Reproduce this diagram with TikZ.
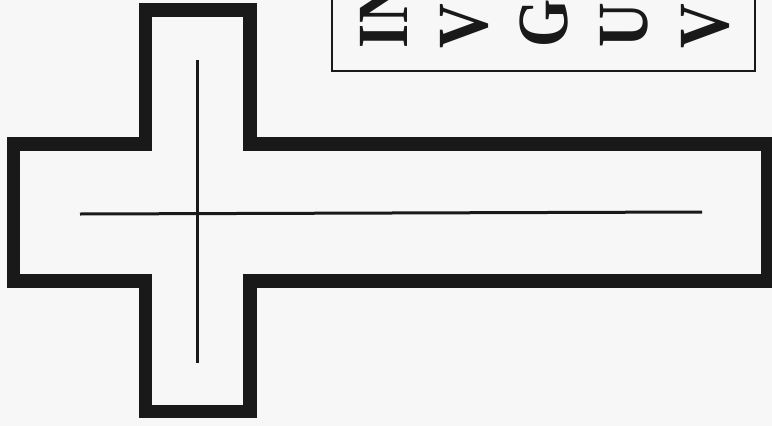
\documentclass[tikz,border=0pt]{standalone}
\usepackage{graphicx}
\usepackage{fontspec}
\setmainfont{Liberation Serif}
\newcommand{\narrowtxt}[1]{\scalebox{0.86}[1]{#1}}
\begin{document}
\begin{tikzpicture}[x=1pt,y=-1pt,
  outline/.style={line width=13.5pt, line join=miter, draw=black!90},
  thinline/.style={line width=3pt, draw=black!90},
  letter/.style={rotate=90, anchor=base west, inner sep=0pt, outer sep=0pt,
    font=\fontsize{72}{80}\selectfont\bfseries, text=black!90}]
\useasboundingbox (0,0) rectangle (772,426);
\clip (0,0) rectangle (772,426);
\fill[black!3] (0,0) rectangle (772,426);
% title box
\draw[line width=1.8pt, draw=black!90] (332,-10) rectangle (755,71);
\node[letter] (l1) at (407,48) {\narrowtxt{IN}};
\node[letter] (l2) at (487,48) {\narrowtxt{V}};
\node[letter] (l3) at (567,47) {\narrowtxt{G}};
\node[letter] (l4) at (647,47) {\narrowtxt{U}};
\node[letter] (l5) at (728,48) {\narrowtxt{V}};
% cross outline
\draw[outline] (145.5,10) -- (250,10) -- (250,144) -- (768,144) -- (768,281)
  -- (250,281) -- (250,411.5) -- (145.5,411.5) -- (145.5,281) -- (13.5,281)
  -- (13.5,144) -- (145.5,144) -- cycle;
% inner lines
\coordinate (vt) at (197,60);
\coordinate (vb) at (197,363);
\coordinate (hl) at (80,214);
\coordinate (hr) at (702,212);
\draw[thinline] (vt) -- (vb);
\draw[thinline] (hl) -- (hr);
\end{tikzpicture}
\end{document}
